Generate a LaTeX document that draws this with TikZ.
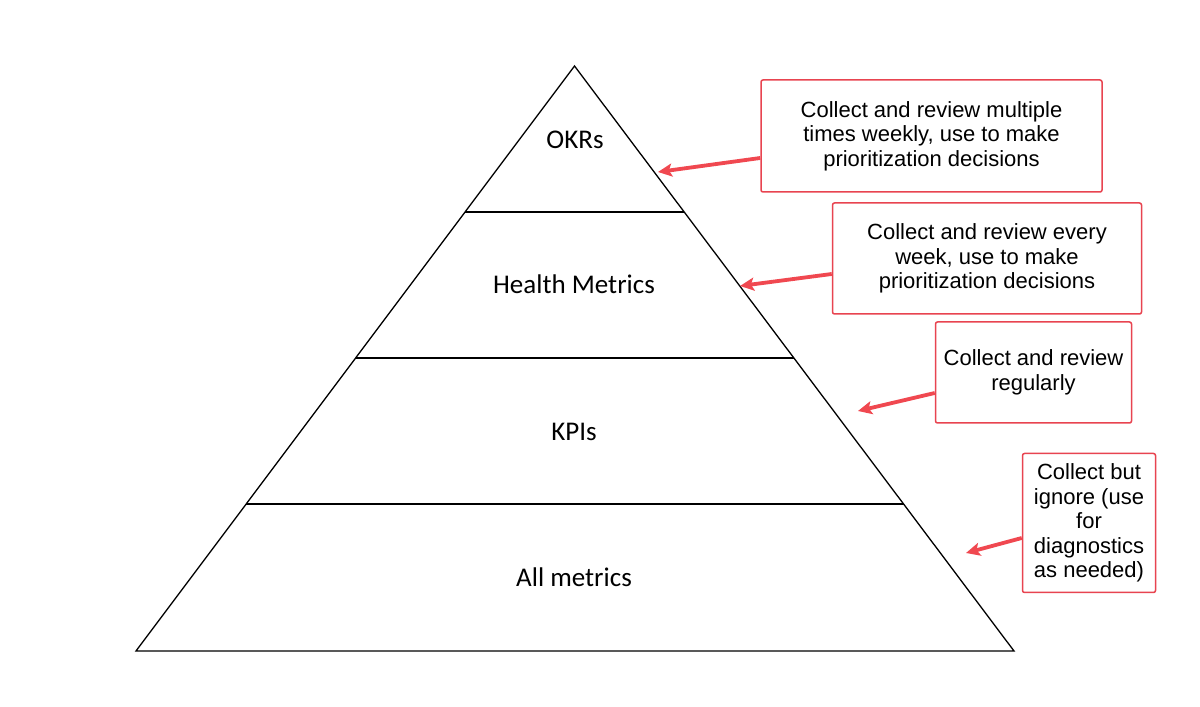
\documentclass[tikz,border=0pt]{standalone}
\usepackage{fontspec}
\setmainfont{Liberation Sans}
\newfontfamily\calib{Carlito}
\usetikzlibrary{calc,arrows.meta}
\definecolor{boxred}{RGB}{232,68,80}
\definecolor{arrred}{RGB}{240,72,80}
\begin{document}
\begin{tikzpicture}[x=1pt,y=1pt,
  level/.style={font=\calib\fontsize{27}{30}\selectfont, text=black},
  notebox/.style={draw=boxred, line width=1.5pt, rounded corners=2pt, fill=white,
    align=center, font=\fontsize{22}{24.5}\selectfont, inner sep=0pt},
  notearrow/.style={draw=arrred, line width=3.8pt,
    -{Stealth[length=14pt,width=13pt,inset=3pt]}},
  edge/.style={draw=black, line width=1.3pt, line join=miter}
]
\useasboundingbox (0,0) rectangle (1200,707);
\fill[white] (0,0) rectangle (1200,707);
% pyramid
\coordinate (apex) at (574.5,641);
\coordinate (bl) at (136,56);
\coordinate (br) at (1014,56);
\draw[edge] (apex) -- (br) -- (bl) -- cycle;
\coordinate (l1) at ($(apex)!0.2496!(bl)$);
\coordinate (r1) at ($(apex)!0.2496!(br)$);
\coordinate (l2) at ($(apex)!0.4991!(bl)$);
\coordinate (r2) at ($(apex)!0.4991!(br)$);
\coordinate (l3) at ($(apex)!0.7487!(bl)$);
\coordinate (r3) at ($(apex)!0.7487!(br)$);
\draw[edge] (l1) -- (r1);
\draw[edge] (l2) -- (r2);
\draw[edge] (l3) -- (r3);
% level labels
\node[level] (okr) at (575,567) {OKRs};
\node[level] (hm) at (574,423) {Health Metrics};
\node[level] (kpi) at (574,275) {KPIs};
\node[level] (all) at (574,130) {All metrics};
% boxes
\node[notebox, minimum width=341pt, minimum height=112pt] (b1) at (931.5,571)
  {Collect and review multiple\\times weekly, use to make\\prioritization decisions};
\node[notebox, minimum width=309pt, minimum height=111pt] (b2) at (987,448.5)
  {Collect and review every\\week, use to make\\prioritization decisions};
\node[notebox, minimum width=196pt, minimum height=101pt] (b3) at (1033.5,334.5)
  {Collect and review\\regularly};
\node[notebox, minimum width=133pt, minimum height=139pt] (b4) at (1089,184)
  {Collect but\\ignore (use\\for\\diagnostics\\as needed)};
% arrow targets
\coordinate (t1) at (658,535);
\coordinate (t2) at (740,421);
\coordinate (t3) at (858,296);
\coordinate (t4) at (966,154);
\draw[notearrow] ($(b1.west)+(0,-22)$) -- (t1);
\draw[notearrow] ($(b2.west)+(0,-15.5)$) -- (t2);
\draw[notearrow] ($(b3.west)+(0,-20.5)$) -- (t3);
\draw[notearrow] ($(b4.west)+(0,-15)$) -- (t4);
\end{tikzpicture}
\end{document}
